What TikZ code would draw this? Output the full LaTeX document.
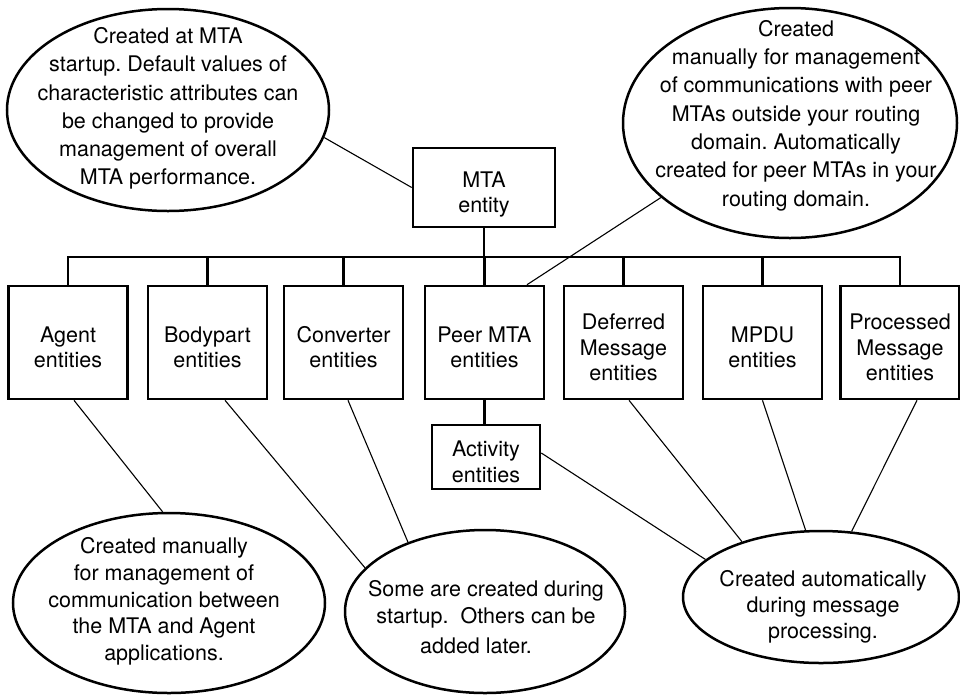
\documentclass[tikz,border=0pt]{standalone}
\usepackage{fontspec}
\setmainfont{TeX Gyre Heros}
\usetikzlibrary{shapes.geometric,calc}
\frenchspacing

% centred stack of lines, set a little below the middle of its box
\newcommand{\boxlines}[1]{\raisebox{-7.5pt}[\height][\depth]{\begin{tabular}{@{}c@{}}#1\end{tabular}}}

\begin{document}
\begin{tikzpicture}[x=1pt,y=-1pt,
  entity/.style={draw,line width=2.6pt,inner sep=0pt,
    minimum width=119pt,minimum height=113pt,
    font=\fontsize{21.5}{25.5}\selectfont},
  note/.style={draw,ellipse,line width=2.5pt,inner sep=0pt},
  notetext/.style={align=center,inner sep=0pt,font=\fontsize{21.5}{28.3}\selectfont},
  bus/.style={line width=2.6pt},
  link/.style={line width=1.1pt}]
\useasboundingbox (0,0) rectangle (960,694);

% explanatory ellipses
\node[note,minimum width=322pt,minimum height=202pt] (noteTL) at (168,110) {};
\node[notetext] (noteTLtext) at (168,108.5)
  {Created at MTA\\startup. Default values of\\characteristic attributes can\\be changed to provide\\management of overall\\MTA performance.};

\node[note,minimum width=334pt,minimum height=230pt] (noteTR) at (790,123) {};
\node[notetext] (noteTRtext) at (796,115.5)
  {Created\\manually for management\\of communications with peer\\MTAs outside your routing\\domain. Automatically\\created for peer MTAs in your\\routing domain.};

\node[note,minimum width=312pt,minimum height=180pt] (noteBL) at (169,603) {};
\node[notetext,font=\fontsize{21.5}{26.6}\selectfont] (noteBLtext) at (164,601.5)
  {Created manually\\for management of\\communication between\\the MTA and Agent\\applications.};

\node[note,minimum width=280pt,minimum height=163pt] (noteBM) at (485,611.5) {};
\node[notetext,font=\fontsize{21.5}{27}\selectfont] (noteBMtext) at (486,617)
  {Some are created during\\startup.\ \ Others can be\\[3pt]added later.\hspace*{20pt}};

\node[note,minimum width=276pt,minimum height=132pt] (noteBR) at (821,597) {};
\node[notetext,font=\fontsize{21.5}{26.2}\selectfont] (noteBRtext) at (823,607)
  {Created automatically\\during message\\processing.};

% entity boxes
\node[entity,minimum width=142pt,minimum height=79pt] (mta) at (484,187.5) {\boxlines{MTA\\entity}};

\node[entity] (agent)     at (68,342.5)    {\boxlines{Agent\\entities}};
\node[entity] (bodypart)  at (207.5,342.5) {\boxlines{Bodypart\\entities}};
\node[entity] (converter) at (343.5,342.5) {\boxlines{Converter\\entities}};
\node[entity] (peer)      at (484.5,342.5) {\boxlines{Peer MTA\\entities}};
\node[entity] (deferred)  at (623.5,342.5) {\boxlines{Deferred\\Message\\entities}};
\node[entity] (mpdu)      at (762.5,342.5) {\boxlines{MPDU\\entities}};
\node[entity] (processed) at (900,342.5)   {\boxlines{Processed\\Message\\entities}};

\node[entity,minimum width=108pt,minimum height=64pt] (activity) at (486,457) {\boxlines{Activity\\entities}};

% hierarchy bus
\coordinate (bus) at (484,257);
\draw[bus] (mta.south) -- (mta.south |- bus);
\draw[bus,line join=miter] (agent.north) |- (processed.north |- bus) -- (processed.north);
\foreach \n in {bodypart,converter,peer,deferred,mpdu}
  \draw[bus] (\n.north) -- (\n.north |- bus);
\draw[bus] (peer.south) -- (peer.south |- activity.north);

% callout lines
\draw[link] (noteTL.-10) -- (mta.west);
\draw[link] (noteTR.210.6) -- ($(peer.north)+(42.5,0)$);
\draw[link] ($(agent.south)+(6,0)$) -- (noteBL.94);
\draw[link] ($(bodypart.south)+(17.5,0)$) -- (noteBM.160);
\draw[link] ($(converter.south)+(4.5,0)$) -- (noteBM.138);
\draw[link] ($(activity.east)+(0,-4)$) -- (noteBR.162);
\draw[link] ($(deferred.south)+(5.5,0)$) -- (noteBR.145);
\draw[link] (mpdu.south) -- (noteBR.103);
\draw[link] ($(processed.south)+(17,0)$) -- (noteBR.65);
\end{tikzpicture}
\end{document}
